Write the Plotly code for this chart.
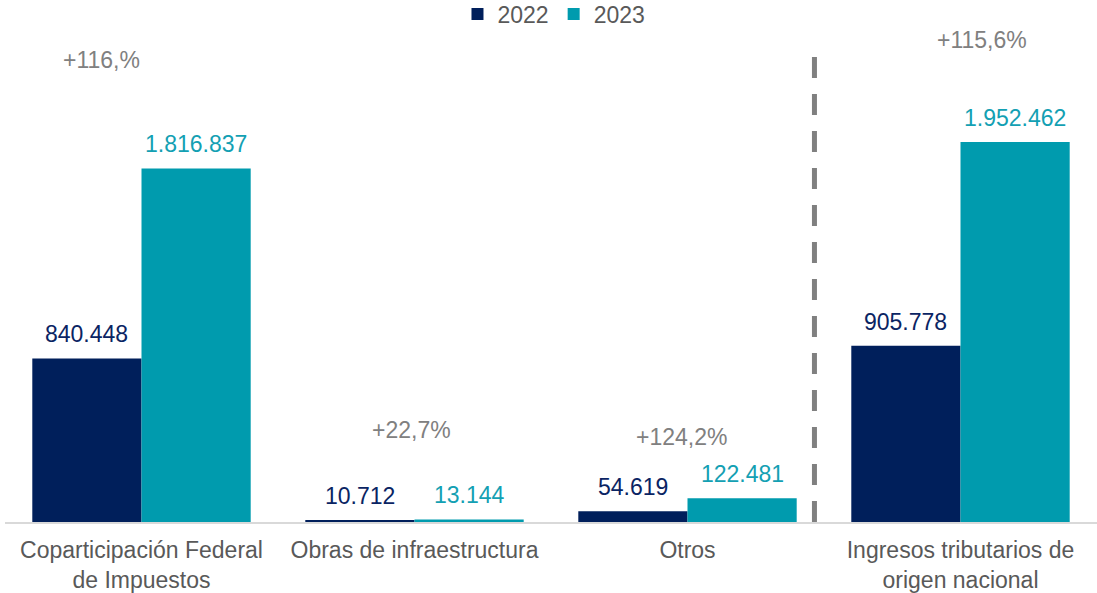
import plotly.graph_objects as go

categories = ["Coparticipación Federal<br>de Impuestos", "Obras de infraestructura",
              "Otros", "Ingresos tributarios de<br>origen nacional"]
values_2022 = [840448, 10712, 54619, 905778]
values_2023 = [1816837, 13144, 122481, 1952462]
pct_labels = ["+116,%", "+22,7%", "+124,2%", "+115,6%"]

# annotation placement (style, not data)
pct_x_offsets = [-0.147, -0.01, -0.022, 0.077]
pct_y_pos = [2374000, 472700, 436700, 2476500]

C22 = "#001F5B"
C23 = "#009BAE"
T22 = "#0A2463"
T23 = "#13A0B3"
FONT = "Liberation Sans, Arial, sans-serif"
FS = 23

def fmt(v):
    return f"{v:,}".replace(",", ".")

fig = go.Figure()
fig.add_trace(go.Bar(name="2022", x=categories, y=values_2022, marker_color=C22,
                     marker_line_width=0, hoverinfo="skip"))
fig.add_trace(go.Bar(name="2023", x=categories, y=values_2023, marker_color=C23,
                     marker_line_width=0, hoverinfo="skip"))

annotations = []
for i, cat in enumerate(categories):
    annotations.append(dict(x=i - 0.2, y=values_2022[i], xref="x", yref="y",
                            text=fmt(values_2022[i]), showarrow=False, yanchor="bottom",
                            yshift=9, font=dict(color=T22, size=FS, family=FONT)))
    annotations.append(dict(x=i + 0.2, y=values_2023[i], xref="x", yref="y",
                            text=fmt(values_2023[i]), showarrow=False, yanchor="bottom",
                            yshift=9, font=dict(color=T23, size=FS, family=FONT)))
    annotations.append(dict(x=i + pct_x_offsets[i], y=pct_y_pos[i], xref="x", yref="y",
                            text=pct_labels[i], showarrow=False, yanchor="middle",
                            font=dict(color="#808080", size=FS, family=FONT)))

fig.update_layout(
    width=1097, height=593,
    margin=dict(l=5, r=0, t=30, b=71, autoexpand=False),
    paper_bgcolor="white", plot_bgcolor="white",
    barmode="group", bargap=0.2, bargroupgap=0,
    font=dict(family=FONT, size=FS, color="#595959"),
    showlegend=True,
    legend=dict(orientation="h", x=0.505, xanchor="center", xref="container",
                y=1 - 14 / 593, yanchor="middle", yref="container",
                font=dict(size=FS, color="#595959"), itemwidth=30,
                bgcolor="rgba(0,0,0,0)"),
    xaxis=dict(showline=True, linecolor="#D9D9D9", linewidth=1.5, ticks="",
               showgrid=False, automargin=False, ticklabelstandoff=7,
               tickfont=dict(size=FS, color="#595959")),
    yaxis=dict(range=[0, 2528000], visible=False, showgrid=False, automargin=False),
    annotations=annotations,
    shapes=[dict(type="line", xref="x", yref="y", x0=2.465, x1=2.465,
                 y0=0, y1=2410000, line=dict(color="#808080", width=5, dash="21px,16px"))],
)

fig.write_html("out.html", config={"displayModeBar": False},
               post_script="document.body.style.margin='0';document.body.style.overflow='hidden';")
